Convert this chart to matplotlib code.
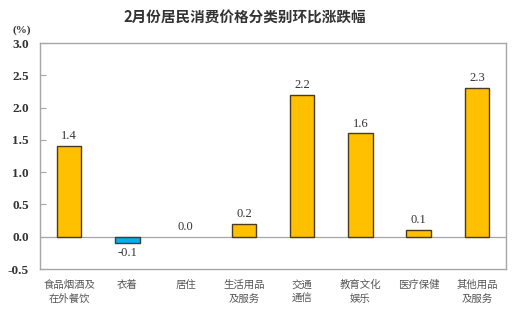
import matplotlib.pyplot as plt

# 数据
categories = ['食品烟酒及\n在外餐饮', '衣着', '居住', '生活用品\n及服务',
              '交通\n通信', '教育文化\n娱乐', '医疗保健', '其他用品\n及服务']
values = [1.4, -0.1, 0.0, 0.2, 2.2, 1.6, 0.1, 2.3]
yticks = [-0.5, 0.0, 0.5, 1.0, 1.5, 2.0, 2.5, 3.0]

num_font = 'Liberation Serif'
cjk_font = ['Noto Sans CJK SC', 'DejaVu Sans']

fig = plt.figure(figsize=(5.17, 3.22), dpi=100)
ax = fig.add_axes([40 / 517, 1 - 269 / 322, 466 / 517, 226 / 322])

colors = ['#00B0F0' if v < 0 else '#FFC000' for v in values]
widths = [0 if v == 0 else 1.0 for v in values]
x = range(len(values))
ax.bar(x, values, width=0.42, color=colors, edgecolor='#4a3a20', linewidth=widths, zorder=3)
ax.axhline(0, color='#a6a6a6', linewidth=0.9, zorder=2)

for i, v in enumerate(values):
    if v < 0:
        ax.text(i, v - 0.06, f'{v:.1f}', ha='center', va='top',
                fontsize=9, family=num_font, color='#333333')
    else:
        ax.text(i, v + 0.06, f'{v:.1f}', ha='center', va='bottom',
                fontsize=9, family=num_font, color='#333333')

ax.set_xlim(-0.5, len(values) - 0.5)
ax.set_ylim(-0.5, 3.0)
ax.set_yticks(yticks)
ax.set_yticklabels([f'{t:.1f}' for t in yticks], family=num_font, fontsize=9.5,
                   fontweight='bold', color='#333333')
ax.tick_params(axis='y', direction='in', length=4, color='#a6a6a6', pad=8)
ax.set_xticks(list(x))
ax.set_xticklabels(categories, family=cjk_font, fontsize=7.5, color='#555555',
                   linespacing=1.4, va='top')
ax.tick_params(axis='x', length=0, pad=8)

for s in ax.spines.values():
    s.set_color('#a6a6a6')
    s.set_linewidth(1.0)

fig.text(245 / 517, 1 - 18 / 322, '2月份居民消费价格分类别环比涨跌幅', ha='center', va='center',
         family=cjk_font, fontsize=10.5, fontweight='bold', color='#333333')
fig.text(22 / 517, 1 - 30 / 322, '(%)', ha='center', va='center',
         family=num_font, fontsize=8, fontweight='bold', color='#333333')

fig.savefig('out.png', dpi=100)
